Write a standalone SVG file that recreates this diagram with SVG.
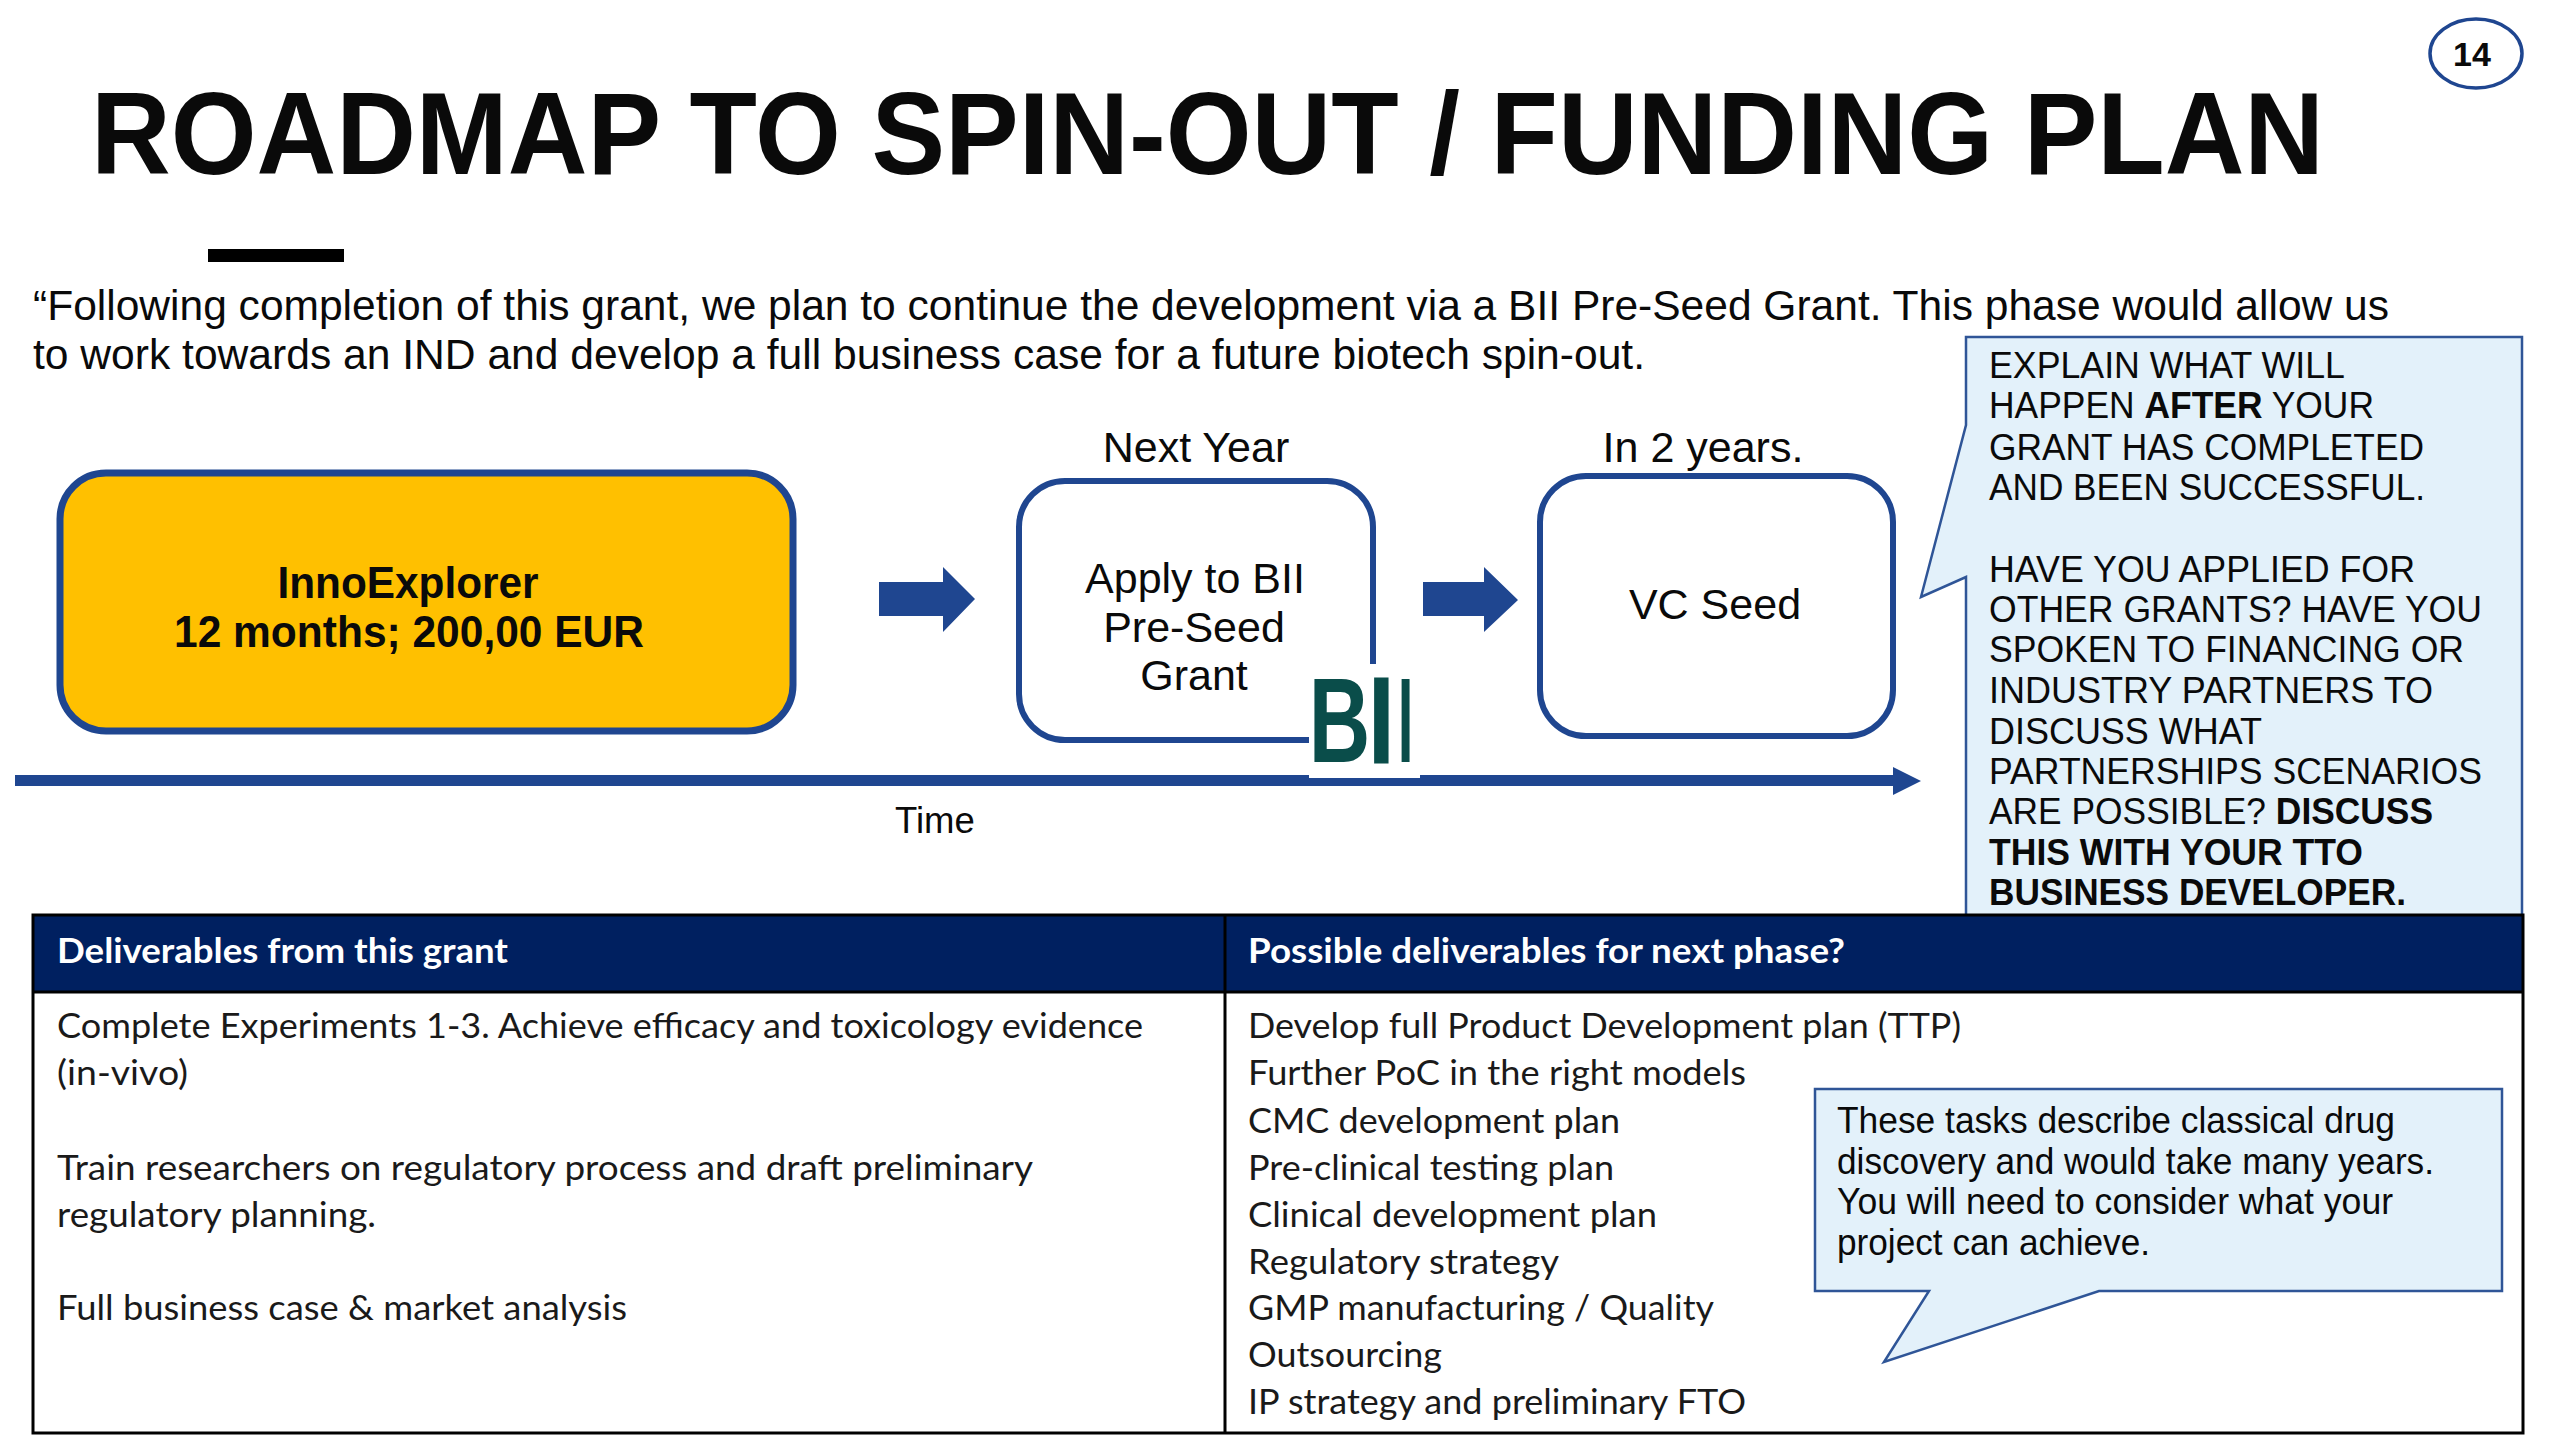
<svg xmlns="http://www.w3.org/2000/svg" width="2560" height="1440" viewBox="0 0 2560 1440">
<style>
text{font-family:"Liberation Sans",Arial,sans-serif;fill:#0a0a0a}
.b{font-weight:700}
.t{font-family:Lato,"Open Sans",sans-serif;font-size:35px;fill:#1a1a1a}
.th{font-family:Lato,"Open Sans",sans-serif;font-size:35px;font-weight:700;fill:#fff}
.l{font-size:43px;text-anchor:middle}
.c{font-size:36px}
.box{stroke:#1f4690;stroke-width:6;fill:#fff}
.call{fill:#e3f1fa;stroke:#2f5597;stroke-width:2.5}
.ar{fill:#1f4690}
.rule{stroke:#000;stroke-width:3;fill:none}
</style>
<rect width="2560" height="1440" fill="#fff"/>

<g id="title">
<text class="b" x="91" y="174" font-size="117" textLength="2233" lengthAdjust="spacingAndGlyphs">ROADMAP TO SPIN-OUT / FUNDING PLAN</text>
<rect x="208" y="249" width="136" height="13" fill="#000"/>
</g>
<g id="page-number">
<ellipse cx="2476" cy="53.5" rx="46" ry="34.5" fill="#fff" stroke="#1f4690" stroke-width="3.5"/>
<text class="b" x="2472" y="66" font-size="34" text-anchor="middle">14</text>
</g>
<g id="intro">
<text x="33" y="320" font-size="43" textLength="2356" lengthAdjust="spacingAndGlyphs">“Following completion of this grant, we plan to continue the development via a BII Pre-Seed Grant. This phase would allow us</text>
<text x="33" y="369" font-size="43" textLength="1612" lengthAdjust="spacingAndGlyphs">to work towards an IND and develop a full business case for a future biotech spin-out.</text>
</g>

<g id="node-innoexplorer">
<rect x="60" y="473" width="733" height="258" rx="46" fill="#ffc000" stroke="#1f4690" stroke-width="7"/>
<text class="b" x="408" y="598" font-size="45" text-anchor="middle" textLength="261" lengthAdjust="spacingAndGlyphs">InnoExplorer</text>
<text class="b" x="409" y="647" font-size="45" text-anchor="middle" textLength="470" lengthAdjust="spacingAndGlyphs">12 months; 200,00 EUR</text>
</g>
<g id="node-bii">
<text class="l" x="1196" y="462">Next Year</text>
<rect class="box" x="1019" y="481" width="354" height="259" rx="46"/>
<text class="l" x="1195" y="593">Apply to BII</text>
<text class="l" x="1194" y="642">Pre-Seed</text>
<text class="l" x="1194" y="690">Grant</text>
</g>
<g id="node-vc">
<text class="l" x="1703" y="462">In 2 years.</text>
<rect class="box" x="1540" y="476" width="353" height="260" rx="46"/>
<text class="l" x="1715" y="619">VC Seed</text>
</g>

<g id="connectors">
<polygon class="ar" points="879,582 943,582 943,567 975,599 943,632 943,616 879,616"/>
<polygon class="ar" points="1423,582 1484,582 1484,567 1518,600 1484,632 1484,616 1423,616"/>
<polygon class="ar" points="15,775 1893,775 1893,767 1921,781 1893,795 1893,786 15,786"/>
</g>

<g id="logo-bii">
<rect x="1309" y="664" width="111" height="114" fill="#fff"/>
<text x="1843.3 1929 1963" y="0" transform="translate(0,762) scale(.71,1)" font-size="120" style="fill:#0a4d4a" class="b">B<tspan style="stroke:#0a4d4a;stroke-width:3">I</tspan><tspan font-weight="400">I</tspan></text>
</g>

<text x="895" y="833" font-size="36.5" id="time-label">Time</text>

<g id="note-after">
<path class="call" d="M1966,915 L1966,577 L1921,597 L1966,425 L1966,337 L2522,337 L2522,915"/>
<text class="c" x="1989" y="378" textLength="356" lengthAdjust="spacingAndGlyphs">EXPLAIN WHAT WILL</text>
<text class="c" x="1989" y="418" textLength="385" lengthAdjust="spacingAndGlyphs">HAPPEN <tspan class="b">AFTER</tspan> YOUR</text>
<text class="c" x="1989" y="460" textLength="435" lengthAdjust="spacingAndGlyphs">GRANT HAS COMPLETED</text>
<text class="c" x="1989" y="500" textLength="436" lengthAdjust="spacingAndGlyphs">AND BEEN SUCCESSFUL.</text>
<text class="c" x="1989" y="582" textLength="426" lengthAdjust="spacingAndGlyphs">HAVE YOU APPLIED FOR</text>
<text class="c" x="1989" y="622" textLength="493" lengthAdjust="spacingAndGlyphs">OTHER GRANTS? HAVE YOU</text>
<text class="c" x="1989" y="662" textLength="475" lengthAdjust="spacingAndGlyphs">SPOKEN TO FINANCING OR</text>
<text class="c" x="1989" y="703" textLength="444" lengthAdjust="spacingAndGlyphs">INDUSTRY PARTNERS TO</text>
<text class="c" x="1989" y="744" textLength="273" lengthAdjust="spacingAndGlyphs">DISCUSS WHAT</text>
<text class="c" x="1989" y="784" textLength="493" lengthAdjust="spacingAndGlyphs">PARTNERSHIPS SCENARIOS</text>
<text class="c" x="1989" y="824" textLength="444" lengthAdjust="spacingAndGlyphs">ARE POSSIBLE? <tspan class="b">DISCUSS</tspan></text>
<text class="c b" x="1989" y="865" textLength="374" lengthAdjust="spacingAndGlyphs">THIS WITH YOUR TTO</text>
<text class="c b" x="1989" y="905" textLength="417" lengthAdjust="spacingAndGlyphs">BUSINESS DEVELOPER.</text>
</g>

<g id="table">
<rect x="33" y="915" width="2490" height="77" fill="#002060"/>
<path class="rule" d="M33,915H2523V1433H33ZM1225,915V1433M33,992H2523"/>
<text class="th" x="57" y="963" textLength="451" lengthAdjust="spacingAndGlyphs">Deliverables from this grant</text>
<text class="th" x="1248" y="963" textLength="597" lengthAdjust="spacingAndGlyphs">Possible deliverables for next phase?</text>
<text class="t" x="57" y="1038" textLength="1086" lengthAdjust="spacingAndGlyphs">Complete Experiments 1-3. Achieve efficacy and toxicology evidence</text>
<text class="t" x="57" y="1085" textLength="131" lengthAdjust="spacingAndGlyphs">(in-vivo)</text>
<text class="t" x="57" y="1180" textLength="976" lengthAdjust="spacingAndGlyphs">Train researchers on regulatory process and draft preliminary</text>
<text class="t" x="57" y="1227" textLength="319" lengthAdjust="spacingAndGlyphs">regulatory planning.</text>
<text class="t" x="57" y="1320" textLength="570" lengthAdjust="spacingAndGlyphs">Full business case &amp; market analysis</text>
<text class="t" x="1248" y="1038" textLength="713" lengthAdjust="spacingAndGlyphs">Develop full Product Development plan (TTP)</text>
<text class="t" x="1248" y="1085" textLength="498" lengthAdjust="spacingAndGlyphs">Further PoC in the right models</text>
<text class="t" x="1248" y="1133" textLength="372" lengthAdjust="spacingAndGlyphs">CMC development plan</text>
<text class="t" x="1248" y="1180" textLength="366" lengthAdjust="spacingAndGlyphs">Pre-clinical testing plan</text>
<text class="t" x="1248" y="1227" textLength="409" lengthAdjust="spacingAndGlyphs">Clinical development plan</text>
<text class="t" x="1248" y="1274" textLength="311" lengthAdjust="spacingAndGlyphs">Regulatory strategy</text>
<text class="t" x="1248" y="1320" textLength="466" lengthAdjust="spacingAndGlyphs">GMP manufacturing / Quality</text>
<text class="t" x="1248" y="1367" textLength="194" lengthAdjust="spacingAndGlyphs">Outsourcing</text>
<text class="t" x="1248" y="1414" textLength="498" lengthAdjust="spacingAndGlyphs">IP strategy and preliminary FTO</text>
</g>

<g id="note-tasks">
<path class="call" d="M1815,1089H2502V1291H2099L1884,1362L1929,1291H1815Z"/>
<text class="c" x="1837" y="1133" textLength="558" lengthAdjust="spacingAndGlyphs">These tasks describe classical drug</text>
<text class="c" x="1837" y="1174" textLength="597" lengthAdjust="spacingAndGlyphs">discovery and would take many years.</text>
<text class="c" x="1837" y="1214" textLength="556" lengthAdjust="spacingAndGlyphs">You will need to consider what your</text>
<text class="c" x="1837" y="1255" textLength="313" lengthAdjust="spacingAndGlyphs">project can achieve.</text>
</g>
</svg>
